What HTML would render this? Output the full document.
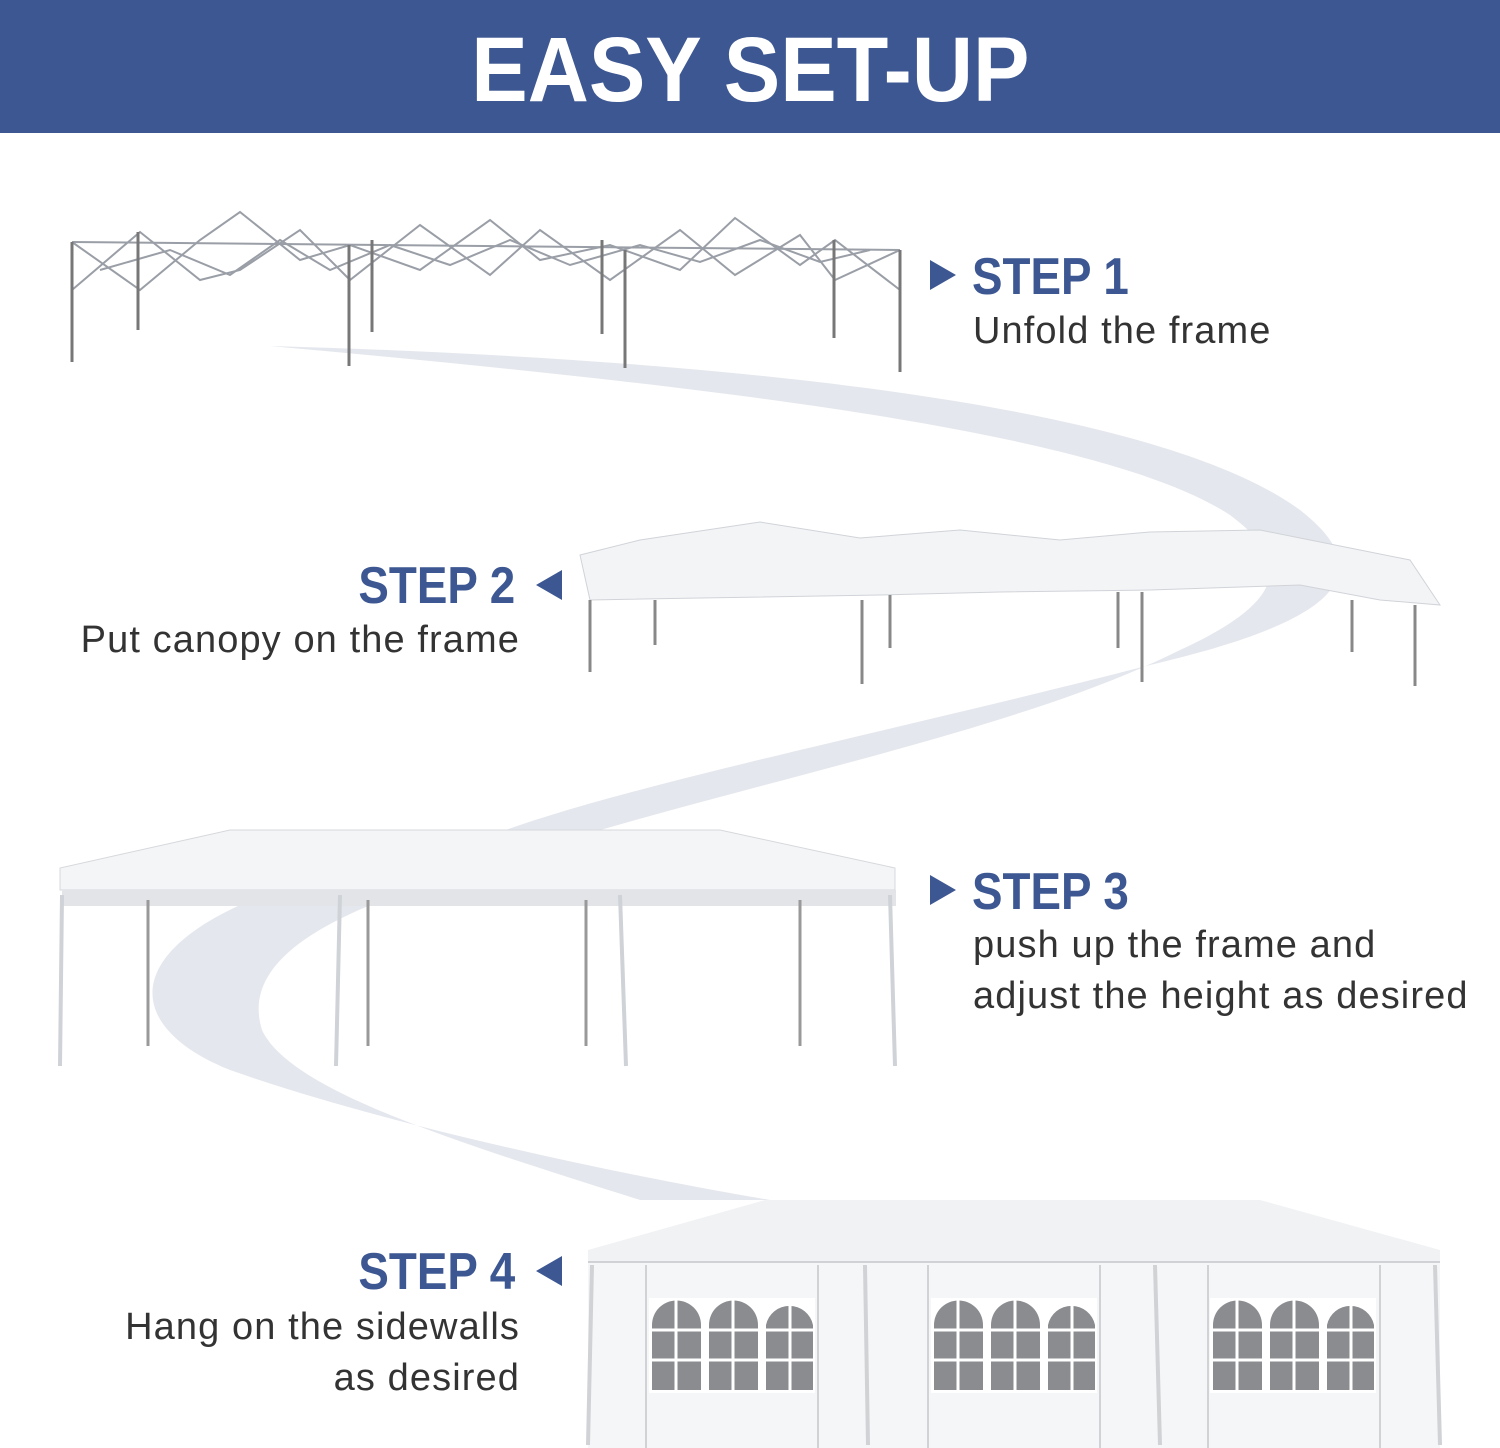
<!DOCTYPE html>
<html><head><meta charset="utf-8"><style>
body{margin:0;width:1500px;height:1448px;background:#fff;overflow:hidden;position:relative;font-family:"Liberation Sans",sans-serif}
.hdr{position:absolute;left:0;top:0;width:1500px;height:133px;background:#3d5792;color:#fff;font-weight:bold;font-size:92px;text-align:center;line-height:140px}
.hdr span{display:inline-block;transform:scaleX(0.92)}
.t{position:absolute;color:#3d5792;font-weight:bold;font-size:52px;line-height:52px;transform:scaleX(0.88)}
.d{position:absolute;color:#333;font-size:38px;line-height:51px;letter-spacing:1.1px}
svg{position:absolute;left:0;top:0}
</style></head><body>
<div class="hdr"><span>EASY SET-UP</span></div>
<svg width="1500" height="1448" viewBox="0 0 1500 1448">
<path fill="#e4e7ed" d="M270,346 C700,358 1150,400 1300,510 C1390,580 1320,625 1150,665 C900,730 600,790 480,840 L240,905 C120,960 130,1030 230,1070 C400,1130 650,1180 770,1200 L640,1200 C450,1140 290,1090 262,1030 C240,960 330,915 440,880 C700,790 1000,740 1180,650 C1290,600 1290,560 1230,515 C1100,430 700,385 270,346Z"/>
<g stroke="#9a9ea6" stroke-width="2" fill="none">
<path d="M72,242 L900,250"/>
<path d="M72,242 L140,290 L200,240 L240,212 L300,260 L350,245 L420,270 L490,220 L540,260 L610,245 L680,270 L735,218 L800,265 L835,240 L900,290"/>
<path d="M72,290 L140,232 L200,280 L240,270 L300,230 L350,280 L420,225 L490,275 L540,230 L610,280 L680,230 L735,275 L800,235 L835,280 L900,250"/>
<path d="M100,270 L170,250 L230,275 L280,240 L330,270 L390,245 L450,265 L510,240 L570,265 L640,245 L700,262 L760,240 L820,262 L870,250"/>
</g>
<g stroke="#777" stroke-width="3">
<line x1="72" y1="242" x2="72" y2="362"/><line x1="138" y1="232" x2="138" y2="330"/><line x1="349" y1="245" x2="349" y2="366"/><line x1="372" y1="240" x2="372" y2="332"/><line x1="602" y1="240" x2="602" y2="334"/><line x1="625" y1="250" x2="625" y2="368"/><line x1="834" y1="240" x2="834" y2="338"/><line x1="900" y1="250" x2="900" y2="372"/>
</g>
<path fill="#f3f4f6" stroke="#d0d3d8" d="M580,555 L640,540 L760,522 L860,538 L960,530 L1060,540 L1150,532 L1260,530 L1350,548 L1410,560 L1440,605 L1380,600 L1300,585 L1150,590 L1000,592 L880,595 L700,598 L590,600Z"/>
<g stroke="#888" stroke-width="3"><line x1="590" y1="600" x2="590" y2="672"/><line x1="655" y1="600" x2="655" y2="645"/><line x1="862" y1="600" x2="862" y2="684"/><line x1="890" y1="595" x2="890" y2="648"/><line x1="1118" y1="592" x2="1118" y2="648"/><line x1="1142" y1="592" x2="1142" y2="682"/><line x1="1352" y1="600" x2="1352" y2="652"/><line x1="1415" y1="605" x2="1415" y2="686"/></g>
<path fill="#f4f5f7" stroke="#d6d8dc" d="M230,830 L720,830 L895,868 L895,890 L60,890 L60,868Z"/>
<rect x="62" y="890" width="834" height="16" fill="#e2e4e8"/>
<g stroke="#cfd2d6" stroke-width="4"><line x1="62" y1="895" x2="60" y2="1066"/><line x1="340" y1="895" x2="336" y2="1066"/><line x1="620" y1="895" x2="626" y2="1066"/><line x1="890" y1="895" x2="895" y2="1066"/></g>
<g stroke="#999" stroke-width="3"><line x1="148" y1="900" x2="148" y2="1046"/><line x1="368" y1="900" x2="368" y2="1046"/><line x1="586" y1="900" x2="586" y2="1046"/><line x1="800" y1="900" x2="800" y2="1046"/></g>
<path fill="#f1f2f4" d="M765,1200 L1260,1200 L1440,1250 L1440,1262 L588,1262 L588,1250Z"/>
<rect x="588" y="1262" width="852" height="186" fill="#f5f6f7"/>
<g stroke="#c4c6ca" stroke-width="1.5"><line x1="646" y1="1265" x2="646" y2="1448"/><line x1="818" y1="1265" x2="818" y2="1448"/><line x1="928" y1="1265" x2="928" y2="1448"/><line x1="1100" y1="1265" x2="1100" y2="1448"/><line x1="1208" y1="1265" x2="1208" y2="1448"/><line x1="1380" y1="1265" x2="1380" y2="1448"/><line x1="588" y1="1262" x2="1440" y2="1262"/></g>
<g id="w">
<rect x="649" y="1298" width="166" height="95" fill="#fff"/>
<g fill="#8a8c90">
<path d="M652,1325 a24,24 0 0 1 49,0 L701,1390 L652,1390Z"/>
<path d="M709,1325 a24,24 0 0 1 49,0 L758,1390 L709,1390Z"/>
<path d="M766,1325 a24,24 0 0 1 47,0 L813,1390 L766,1390Z"/>
</g>
<g stroke="#fff" stroke-width="3"><line x1="649" y1="1330" x2="815" y2="1330"/><line x1="649" y1="1360" x2="815" y2="1360"/><line x1="676" y1="1300" x2="676" y2="1392"/><line x1="733" y1="1300" x2="733" y2="1392"/><line x1="790" y1="1300" x2="790" y2="1392"/></g>
</g>
<use href="#w" x="282"/><use href="#w" x="561"/>
<g stroke="#d0d2d6" stroke-width="4"><line x1="592" y1="1265" x2="588" y2="1445"/><line x1="865" y1="1265" x2="868" y2="1445"/><line x1="1155" y1="1265" x2="1160" y2="1445"/><line x1="1435" y1="1265" x2="1440" y2="1445"/></g>
<g fill="#3d5792"><path d="M930,260 L956,275 L930,290Z"/><path d="M562,570 L536,585 L562,600Z"/><path d="M930,875 L956,890 L930,905Z"/><path d="M562,1256 L536,1271 L562,1286Z"/></g>
</svg>
<div class="t" style="left:972px;top:251px;transform-origin:left">STEP 1</div>
<div class="d" style="left:973px;top:306px">Unfold the frame</div>
<div class="t" style="right:985px;top:560px;transform-origin:right">STEP 2</div>
<div class="d" style="right:980px;top:615px">Put canopy on the frame</div>
<div class="t" style="left:972px;top:866px;transform-origin:left">STEP 3</div>
<div class="d" style="left:973px;top:920px">push up the frame and<br>adjust the height as desired</div>
<div class="t" style="right:985px;top:1246px;transform-origin:right">STEP 4</div>
<div class="d" style="right:980px;top:1302px;text-align:right">Hang on the sidewalls<br>as desired</div>
</body></html>
